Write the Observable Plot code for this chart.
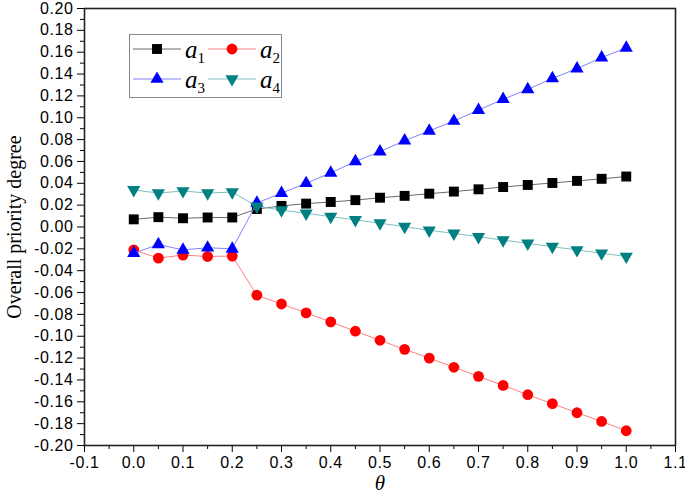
<!DOCTYPE html>
<html><head><meta charset="utf-8">
<script src="https://cdn.jsdelivr.net/npm/d3@7"></script>
<script src="https://cdn.jsdelivr.net/npm/@observablehq/plot@0.6"></script>
<style>
body{margin:0;background:#fff}
#wrap{position:relative;width:685px;height:496px;background:#fff}
#chart svg{display:block}
#legend{position:absolute;left:129px;top:34px;width:153px;height:64px;border:1px solid #888;background:#fff;box-sizing:border-box}
#legend svg{display:block}
</style>
</head><body>
<div id="wrap"><div id="chart"></div><div id="legend"></div></div>
<script>
// ---- data ----
const theta = [0, 0.05, 0.1, 0.15, 0.2, 0.25, 0.3, 0.35, 0.4, 0.45, 0.5, 0.55, 0.6, 0.65, 0.7, 0.75, 0.8, 0.85, 0.9, 0.95, 1.0];
const a1 = [0.007, 0.009, 0.008, 0.0087, 0.0087, 0.0165, 0.0193, 0.0214, 0.0229, 0.0246, 0.0268, 0.0285, 0.0305, 0.0324, 0.0345, 0.0366, 0.0385, 0.0403, 0.0422, 0.0441, 0.0462];
const a2 = [-0.021, -0.0285, -0.0257, -0.027, -0.0266, -0.0624, -0.0705, -0.0786, -0.0869, -0.0954, -0.1037, -0.112, -0.120, -0.1284, -0.1367, -0.145, -0.1535, -0.1617, -0.170, -0.178, -0.1865];
const a3 = [-0.024, -0.016, -0.021, -0.019, -0.020, 0.022, 0.031, 0.040, 0.0495, 0.060, 0.069, 0.079, 0.088, 0.097, 0.107, 0.117, 0.126, 0.136, 0.145, 0.155, 0.164];
const a4 = [0.034, 0.031, 0.033, 0.031, 0.032, 0.019, 0.0155, 0.0125, 0.0095, 0.0065, 0.0035, 0.0003, -0.003, -0.0058, -0.009, -0.012, -0.015, -0.018, -0.021, -0.024, -0.027];
const seriesNames = ["a1", "a2", "a3", "a4"];
const seriesSubs = ["1", "2", "3", "4"];
const yTicks = [-0.20, -0.18, -0.16, -0.14, -0.12, -0.10, -0.08, -0.06, -0.04, -0.02, 0.00, 0.02, 0.04, 0.06, 0.08, 0.10, 0.12, 0.14, 0.16, 0.18, 0.20];
const yMinor = [-0.19, -0.17, -0.15, -0.13, -0.11, -0.09, -0.07, -0.05, -0.03, -0.01, 0.01, 0.03, 0.05, 0.07, 0.09, 0.11, 0.13, 0.15, 0.17, 0.19];
const xTicks = [-0.1, 0.0, 0.1, 0.2, 0.3, 0.4, 0.5, 0.6, 0.7, 0.8, 0.9, 1.0, 1.1];
const xMinor = [-0.05, 0.05, 0.15, 0.25, 0.35, 0.45, 0.55, 0.65, 0.75, 0.85, 0.95, 1.05];
const yTitle = "Overall priority degree";
const xTitle = "θ";

// ---- styles ----
const s3 = Math.sqrt(3);
const triUp = {draw(ctx, size){const a = Math.sqrt(size*4/s3), h = a*s3/2; ctx.moveTo(0,-2*h/3); ctx.lineTo(a/2,h/3); ctx.lineTo(-a/2,h/3); ctx.closePath();}};
const triDown = {draw(ctx, size){const a = Math.sqrt(size*4/s3), h = a*s3/2; ctx.moveTo(0,2*h/3); ctx.lineTo(a/2,-h/3); ctx.lineTo(-a/2,-h/3); ctx.closePath();}};
const styles = [
  {line:"#6a6a6a", fill:"#000000", symbol:"square", r:5.6},
  {line:"#ff8080", fill:"#ff0000", symbol:"circle", r:5.4},
  {line:"#8080ff", fill:"#0000ff", symbol:triUp, r:4.9},
  {line:"#80c0c0", fill:"#008080", symbol:triDown, r:4.9}
];
const values = [a1, a2, a3, a4];
const tables = values.map(v => theta.map((t, i) => ({theta: t, v: v[i]})));

const fmtY = d => Math.abs(d) < 1e-9 ? "0.00" : d.toFixed(2);
const fmtX = d => Math.abs(d) < 1e-9 ? "0.0" : d.toFixed(1);

const marks = [
  Plot.axisY(yMinor, {tickSize:4, tickFormat: () => "", label: null}),
  Plot.axisX(xMinor, {tickSize:4, tickFormat: () => "", label: null}),
  Plot.axisY(yTicks, {tickSize:7, tickPadding:4, tickFormat: fmtY, label: yTitle, labelAnchor:"center", labelOffset:78, labelArrow:"none"}),
  Plot.axisX(xTicks, {tickSize:7, tickPadding:4, tickFormat: fmtX, label: xTitle, labelAnchor:"center", labelOffset:44, labelArrow:"none"})
];
tables.forEach((tb, k) => {
  const st = styles[k];
  marks.push(Plot.line(tb, {x:"theta", y:"v", stroke: st.line, strokeWidth: 1}));
  marks.push(Plot.dot(tb, {x:"theta", y:"v", symbol: st.symbol, r: st.r, fill: st.fill, stroke: "none"}));
});
marks.push(Plot.frame({stroke:"#222", strokeWidth:1.6}));

const chart = Plot.plot({
  width: 685, height: 496,
  marginLeft: 84, marginRight: 10, marginTop: 8, marginBottom: 51,
  x: {domain: [-0.1, 1.1]},
  y: {domain: [-0.2, 0.2]},
  style: {fontFamily: '"Liberation Sans", Arial, sans-serif', fontSize: "16px", color: "#000", background: "#fff", overflow: "visible"},
  marks
});
document.getElementById("chart").append(chart);

// style axis titles and tick labels
const sel = d3.select(chart);
sel.selectAll("text").each(function(){
  const s = d3.select(this), txt = this.textContent;
  if (txt === yTitle) {
    s.style("font-family", '"Liberation Serif", "Times New Roman", serif').style("font-size", "20px");
  } else if (txt === xTitle) {
    s.style("font-family", '"Liberation Serif", "Times New Roman", serif').style("font-size", "21px").style("font-style", "italic");
  } else {
    s.style("letter-spacing", "0.6px");
  }
});

// ---- legend ----
const lg = d3.select("#legend").append("svg").attr("width", 153).attr("height", 64);
const pos = [{x:0, y:14}, {x:75, y:14}, {x:0, y:44}, {x:75, y:44}];
seriesNames.forEach((name, k) => {
  const st = styles[k], p = pos[k];
  const g = lg.append("g").attr("transform", `translate(${p.x},${p.y})`);
  g.append("line").attr("x1", 3).attr("x2", 51).attr("y1", 0).attr("y2", 0).attr("stroke", st.line).attr("stroke-width", 1);
  const type = typeof st.symbol === "string" ? (st.symbol === "square" ? d3.symbolSquare : d3.symbolCircle) : st.symbol;
  g.append("path").attr("d", d3.symbol(type, Math.PI*st.r*st.r)()).attr("transform", "translate(27,0)").attr("fill", st.fill);
  const t = g.append("text").attr("x", 55).attr("y", 9).attr("font-family", '"Liberation Serif", serif').attr("font-size", 25).attr("fill", "#000");
  t.append("tspan").attr("font-style", "italic").text(name.slice(0,1));
  t.append("tspan").attr("font-size", 15).attr("dy", 5).text(seriesSubs[k]);
});
</script>
</body></html>
